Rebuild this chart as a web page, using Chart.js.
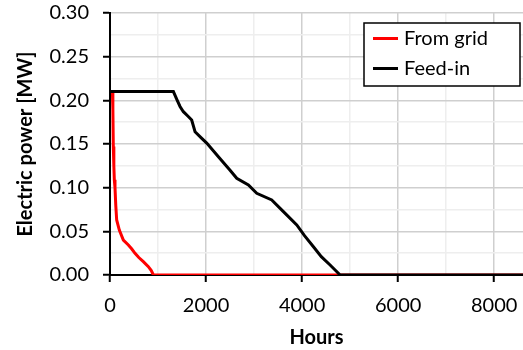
<!DOCTYPE html>
<html>
<head>
<meta charset="utf-8">
<script src="https://cdn.jsdelivr.net/npm/chart.js@4/dist/chart.umd.min.js"></script>
<style>
html,body{margin:0;padding:0;background:#fff;}
#wrap{width:523px;height:350px;position:relative;}
</style>
</head>
<body>
<div id="wrap"><canvas id="c" width="523" height="350"></canvas></div>
<script>
// Series: hours (x) and electric power in MW (y)
const gridHours = [0, 50, 60, 69, 80, 90, 104, 120, 139, 194, 278, 382, 450, 521, 600, 694, 799, 860, 903, 8760];
const gridPower = [0.21, 0.21, 0.19, 0.147, 0.125, 0.109, 0.100, 0.080, 0.063, 0.0515, 0.040, 0.0344, 0.030, 0.0248, 0.020, 0.0153, 0.0095, 0.005, 0.0, 0.0];
const feedHours = [0, 1320, 1400, 1458, 1528, 1620, 1701, 1771, 1900, 2014, 2257, 2500, 2639, 2882, 3056, 3368, 3611, 3889, 4050, 4236, 4400, 4583, 4792, 8760];
const feedPower = [0.21, 0.21, 0.200, 0.193, 0.187, 0.182, 0.1775, 0.164, 0.157, 0.151, 0.1355, 0.120, 0.1107, 0.103, 0.0935, 0.0859, 0.0725, 0.0573, 0.045, 0.0324, 0.021, 0.0115, 0.0, 0.0];
const seriesNames = ['From grid', 'Feed-in'];
const seriesColors = ['#ff0000', '#000000'];
const yTickLabels = ['0.00', '0.05', '0.10', '0.15', '0.20', '0.25', '0.30'];
const xTickLabels = ['0', '2000', '4000', '6000', '8000'];
const xMinorTicks = [1000, 3000, 5000, 7000];

const FONT = 'Lato, "Open Sans", sans-serif';
const toPts = (xs, ys) => xs.map((x, i) => ({x: x, y: ys[i]}));

const legendBox = {
  id: 'legendBox',
  afterDraw(chart) {
    const ctx = chart.ctx;
    const x0 = 364, y0 = 23, w = 156, h = 63;
    ctx.save();
    ctx.fillStyle = '#fff';
    ctx.fillRect(x0, y0, w, h);
    ctx.strokeStyle = '#000';
    ctx.lineWidth = 1.5;
    ctx.strokeRect(x0, y0, w, h);
    ctx.font = '20px ' + FONT;
    ctx.textBaseline = 'middle';
    ctx.textAlign = 'left';
    const rows = [38.5, 68.5];
    chart.data.datasets.forEach((ds, i) => {
      const yy = rows[i];
      ctx.strokeStyle = ds.borderColor;
      ctx.lineWidth = 3;
      ctx.beginPath();
      ctx.moveTo(373, yy);
      ctx.lineTo(398, yy);
      ctx.stroke();
      ctx.fillStyle = '#000';
      ctx.fillText(ds.label, 404, yy);
    });
    ctx.restore();
  }
};

new Chart(document.getElementById('c'), {
  type: 'scatter',
  data: {
    datasets: [
      {label: seriesNames[0], data: toPts(gridHours, gridPower), showLine: true, borderColor: seriesColors[0], backgroundColor: seriesColors[0], borderWidth: 3, pointRadius: 0, order: 1, tension: 0},
      {label: seriesNames[1], data: toPts(feedHours, feedPower), showLine: true, borderColor: seriesColors[1], backgroundColor: seriesColors[1], borderWidth: 3, pointRadius: 0, order: 0, tension: 0}
    ]
  },
  options: {
    responsive: false,
    animation: false,
    layout: {padding: {top: 13, right: 0, left: 0, bottom: 0}},
    plugins: {legend: {display: false}, tooltip: {enabled: false}},
    scales: {
      x: {
        type: 'linear', min: 0, max: 8600,
        afterBuildTicks: (s) => {
          const vals = xTickLabels.map(Number).concat(xMinorTicks).sort((a, b) => a - b);
          s.ticks = vals.map(v => ({value: v}));
        },
        afterFit: (s) => { s.height = 75; s.paddingLeft = 0; s.paddingRight = 0; },
        ticks: {
          autoSkip: false, maxRotation: 0, minRotation: 0, padding: 12,
          color: '#000', font: {family: FONT, size: 20},
          callback: (v) => { const i = xTickLabels.indexOf(String(v)); return i >= 0 ? xTickLabels[i] : ''; }
        },
        grid: {
          color: (c) => { const v = c.tick ? c.tick.value : 0; if (v % 2000 === 0) return '#cfcfcf'; if (v % 1000 === 0) return '#eeeeee'; return 'rgba(0,0,0,0)'; },
          tickColor: (c) => { const v = c.tick ? c.tick.value : 0; return v % 2000 === 0 ? '#000' : 'rgba(0,0,0,0)'; },
          lineWidth: 1.5, tickLength: 7, tickWidth: 2
        },
        border: {color: '#000', width: 2},
        title: {display: true, text: 'Hours', color: '#000', font: {family: FONT, size: 20, weight: 'bold'}, padding: {top: 4, bottom: 0}}
      },
      y: {
        type: 'linear', min: 0, max: 0.3,
        afterFit: (s) => { s.width = 110; s.paddingTop = 0; s.paddingBottom = 0; },
        ticks: {
          stepSize: 0.025, autoSkip: false, padding: 14,
          color: '#000', font: {family: FONT, size: 20},
          callback: (v) => { const s = v.toFixed(2); const r = Math.round(v * 1000); return (r % 50 === 0 && yTickLabels.includes(s)) ? s : ''; }
        },
        grid: {
          color: (c) => { const r = Math.round((c.tick ? c.tick.value : 0) * 1000); return r % 50 === 0 ? '#cfcfcf' : '#eeeeee'; },
          tickColor: (c) => { const r = Math.round((c.tick ? c.tick.value : 0) * 1000); return r % 50 === 0 ? '#000' : 'rgba(0,0,0,0)'; },
          lineWidth: 1.5, tickLength: 7, tickWidth: 2
        },
        border: {color: '#000', width: 2},
        title: {display: true, text: 'Electric power [MW]', color: '#000', font: {family: FONT, size: 20, weight: 'bold'}, padding: {top: 14, bottom: 0}}
      }
    }
  },
  plugins: [legendBox]
});
</script>
</body>
</html>
